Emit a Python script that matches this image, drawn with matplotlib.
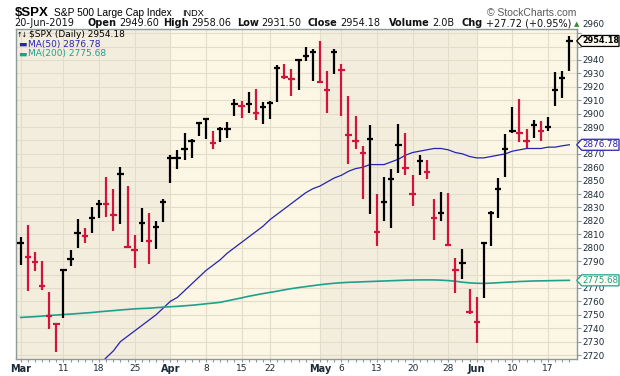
import matplotlib
matplotlib.use("Agg")
import matplotlib.pyplot as plt
import numpy as np
import pandas as pd
from matplotlib import font_manager
from matplotlib.patches import Polygon
from matplotlib.transforms import IdentityTransform, ScaledTranslation

# ---- data (S&P 500 daily, 1-Mar-2019 .. 20-Jun-2019) ----
dates = pd.bdate_range("2019-03-01", "2019-06-20").drop(pd.to_datetime(["2019-04-19", "2019-05-27"]))
prev_close = 2784.49

highs = [2808.02, 2816.88, 2796.44, 2790.27, 2767.25, 2744.13, 2783.81, 2798.32, 2821.24, 2815.00, 2830.73,
         2835.41, 2852.42, 2843.54, 2860.31, 2846.16, 2809.79, 2829.87, 2825.56, 2819.71, 2836.03,
         2869.40, 2872.90, 2885.25, 2881.28, 2893.24, 2895.95, 2886.88, 2889.71, 2893.42, 2910.54, 2909.60,
         2916.06, 2918.00, 2908.40, 2909.51, 2936.31, 2936.83, 2933.10, 2939.88, 2949.52, 2948.22,
         2954.13, 2931.68, 2947.85, 2937.32, 2913.03, 2897.96, 2875.97, 2891.31, 2840.19, 2852.54, 2858.68,
         2892.15, 2885.48, 2853.86, 2868.88, 2865.47, 2836.70, 2841.36, 2840.51, 2792.03, 2799.00, 2768.98,
         2763.07, 2804.49, 2827.28, 2852.10, 2884.97, 2904.77, 2910.61, 2888.57, 2895.24, 2894.45, 2897.27,
         2930.79, 2931.74, 2958.06]
lows = [2787.38, 2767.66, 2782.97, 2768.69, 2739.09, 2722.27, 2747.61, 2786.73, 2799.78, 2803.46, 2810.79,
        2821.99, 2823.27, 2812.43, 2817.38, 2800.47, 2785.02, 2803.99, 2787.72, 2798.77, 2819.23,
        2848.63, 2858.75, 2865.17, 2867.14, 2882.99, 2880.78, 2873.33, 2879.13, 2881.99, 2898.37, 2896.48,
        2900.71, 2895.45, 2891.90, 2896.35, 2908.53, 2926.05, 2912.84, 2917.56, 2939.35, 2924.11,
        2923.36, 2900.50, 2929.21, 2898.21, 2862.60, 2873.28, 2836.40, 2825.39, 2801.43, 2820.12, 2815.08,
        2855.80, 2854.23, 2831.29, 2854.02, 2851.11, 2805.49, 2820.19, 2801.58, 2766.06, 2776.74, 2750.52,
        2728.81, 2762.64, 2800.92, 2822.45, 2852.87, 2885.51, 2878.53, 2874.68, 2881.99, 2879.62, 2887.30,
        2905.44, 2911.43, 2931.50]
closes = [2803.69, 2792.81, 2789.65, 2771.45, 2748.93, 2743.07, 2783.30, 2791.52, 2810.92, 2808.48, 2822.48,
          2832.94, 2832.57, 2824.23, 2854.88, 2800.71, 2798.36, 2818.46, 2805.37, 2815.44, 2834.40,
          2867.19, 2867.24, 2873.40, 2879.39, 2892.74, 2895.77, 2878.20, 2888.21, 2888.32, 2907.41, 2905.58,
          2907.06, 2900.45, 2905.03, 2907.97, 2933.68, 2927.25, 2926.17, 2939.88, 2943.03, 2945.83,
          2923.73, 2917.52, 2945.64, 2932.47, 2884.05, 2879.42, 2870.72, 2881.40, 2811.87, 2834.41, 2850.96,
          2876.32, 2859.53, 2840.23, 2864.36, 2856.27, 2822.24, 2826.06, 2802.39, 2783.02, 2788.86, 2752.06,
          2744.45, 2803.27, 2826.15, 2843.49, 2873.34, 2886.73, 2885.72, 2879.84, 2891.64, 2886.98, 2889.67,
          2917.75, 2926.46, 2954.18]

# MA(50) starts inside the window (values before day 11 are below the chart)
ma50_start = 11
ma50 = [2712, 2718, 2723, 2730, 2734, 2738, 2742, 2746, 2750, 2755, 2760, 2763, 2768, 2773, 2778, 2783,
        2787, 2791, 2796, 2800, 2804, 2808, 2812, 2816, 2821, 2825, 2829, 2833, 2837, 2841, 2844, 2846,
        2849, 2852, 2854, 2857, 2859, 2860, 2862, 2862, 2862, 2864, 2866, 2869, 2871, 2872, 2873, 2874,
        2874, 2873, 2871, 2870, 2868, 2867, 2867, 2868, 2869, 2870, 2872, 2873, 2874, 2874, 2874, 2875,
        2875, 2876, 2876.78]
ma200 = [2748.0, 2748.3, 2748.6, 2749.0, 2749.5, 2749.8, 2750.2, 2750.5, 2750.9, 2751.3, 2751.7, 2752.2,
         2752.7, 2753.1, 2753.6, 2754.0, 2754.4, 2754.7, 2754.9, 2755.3, 2755.7, 2756.0, 2756.3, 2756.7,
         2757.1, 2757.6, 2758.2, 2758.7, 2759.3, 2760.4, 2761.5, 2762.6, 2763.8, 2764.8, 2765.8, 2766.7,
         2767.6, 2768.6, 2769.5, 2770.3, 2771.0, 2771.7, 2772.4, 2773.0, 2773.5, 2773.9, 2774.2, 2774.4,
         2774.6, 2774.8, 2775.0, 2775.2, 2775.4, 2775.6, 2775.8, 2775.9, 2776.0, 2776.0, 2776.0, 2775.8,
         2775.5, 2775.0, 2774.3, 2773.8, 2773.5, 2773.4, 2773.6, 2773.9, 2774.2, 2774.5, 2774.8, 2775.0,
         2775.2, 2775.3, 2775.4, 2775.5, 2775.6, 2775.68]

tick_days = ["2019-03-01", "2019-03-11", "2019-03-18", "2019-03-25", "2019-04-01", "2019-04-08",
             "2019-04-15", "2019-04-22", "2019-05-01", "2019-05-06", "2019-05-13", "2019-05-20",
             "2019-05-28", "2019-06-03", "2019-06-10", "2019-06-17"]
y_ticks = list(range(2720, 2961, 10))
hidden_y = [2950, 2880, 2780]   # covered by the value tags

RED = "#D2143A"
BLUE = "#2424AE"
TEAL = "#1FA08C"
LIGHT = "#FCF6E4"
DARK = "#F3EDDE"
GRIDC = "#E3DCCB"
AXC = "#8E9A9A"
TXT = "#1C2A36"

names = {f.name for f in font_manager.fontManager.ttflist}
narrow = "Liberation Sans Narrow" in names

W, H = 620, 376
fig = plt.figure(figsize=(W / 100, H / 100), dpi=100)
ax = fig.add_axes([15.7 / W, 1 - 359.3 / H, 561 / W, 330.3 / H])

x = np.arange(len(dates))
ax.set_xlim(-0.70, 78.03)
ax.set_ylim(2716.8, 2963.1)

# month shading
ax.set_facecolor(LIGHT)
month_starts = [i for i in range(len(dates)) if i == 0 or dates[i].month != dates[i - 1].month]
edges = month_starts[1:] + [ax.get_xlim()[1]]
lo = ax.get_xlim()[0]
for k, hi in enumerate(edges):
    if k % 2 == 0:
        ax.axvspan(lo, hi, color=DARK, lw=0, zorder=0)
    lo = hi

# bars (high-low with close cross)
prev = [prev_close] + closes[:-1]
cols = ["black" if c >= p else RED for c, p in zip(closes, prev)]
ax.vlines(x, lows, highs, colors=cols, lw=1.6, zorder=4)
ax.hlines(closes, x - 0.45, x + 0.45, colors=cols, lw=1.6, zorder=4)

ax.plot(x[ma50_start:], ma50, color=BLUE, lw=0.9, zorder=3)
ax.plot(x, ma200, color=TEAL, lw=1.2, zorder=3)

# axes / grid
tick_idx = [int(np.where(dates == pd.Timestamp(d))[0][0]) for d in tick_days]
tick_lbl = [dates[i].strftime("%b") if i in month_starts else str(dates[i].day) for i in tick_idx]
ax.set_xticks(tick_idx, tick_lbl)
ax.set_xticks(x, minor=True)
for lab, i in zip(ax.get_xticklabels(), tick_idx):
    if i in month_starts:
        lab.set_fontweight("bold")
        lab.set_fontsize(7)
    else:
        lab.set_fontsize(6.5)
    lab.set_color(TXT)
ax.tick_params(axis="x", which="both", length=2, width=0.8, color=AXC, pad=1.5)

ax.yaxis.tick_right()
ax.set_yticks(y_ticks, ["" if v in hidden_y else str(v) for v in y_ticks])
ax.tick_params(axis="y", length=3, width=0.8, color=AXC, pad=1, labelsize=6.3, labelcolor=TXT)
# top label sits above the last-price tag
top_lab = ax.get_yticklabels()[-1]
top_lab.set_transform(top_lab.get_transform() + ScaledTranslation(0, 7 / 72, fig.dpi_scale_trans))
ax.grid(True, which="major", color=GRIDC, lw=0.8, zorder=1)
ax.set_axisbelow(True)
for s in ax.spines.values():
    s.set_color(AXC)
    s.set_linewidth(1)

# legend text inside plot
def px(xp, yp):
    return xp / W, 1 - yp / H

fig.text(*px(16.5, 34.5), "\u2191\u2193", fontsize=4.8, va="center", color="black")
fig.text(*px(29, 34.5), "$SPX (Daily) 2954.18", fontsize=6.5, va="center", color="black")
fig.text(*px(18, 44.3), "\u25ac", fontsize=6.5, va="center", color=BLUE)
fig.text(*px(28, 44.3), "MA(50) 2876.78", fontsize=6.5, va="center", color=BLUE)
fig.text(*px(18, 53.8), "\u25ac", fontsize=6.5, va="center", color=TEAL)
fig.text(*px(28, 53.8), "MA(200) 2775.68", fontsize=6.5, va="center", color=TEAL)

# header
hf = "Liberation Sans Narrow" if narrow else "Liberation Sans"
fig.text(*px(15, 15.5), "$SPX", family=hf, fontweight="bold", fontsize=11 if narrow else 9.5, va="baseline")
fig.text(*px(54, 15.5), "S&P 500 Large Cap Index", family=hf, fontsize=8.6 if narrow else 7.3, va="baseline")
fig.text(*px(182, 15.5), "INDX", family="Liberation Sans", fontsize=6.6, va="baseline")
fig.text(*px(576, 15.5), "\u00a9 StockCharts.com", family="Liberation Sans", fontsize=7.5,
         va="baseline", ha="right", color="#5A5A5A")

fig.canvas.draw()
rend = fig.canvas.get_renderer()
row2 = [(14, None, "20-Jun-2019"), (88, "Open", "2949.60"), (163, "High", "2958.06"),
        (237, "Low", "2931.50"), (308, "Close", "2954.18"), (389, "Volume", "2.0B"),
        (462, "Chg", "+27.72 (+0.95%)")]
for xs, lab, val in row2:
    xx = xs
    if lab:
        t = fig.text(*px(xx, 26), lab, fontsize=7.0, fontweight="bold", va="baseline", color="#111111")
        xx = t.get_window_extent(rend).x1 + 2.5
    t = fig.text(*px(xx, 26), val, fontsize=7.0, va="baseline", color="#111111")
end_x = t.get_window_extent(rend).x1
fig.text(*px(end_x + 3, 26), "\u25b2", fontsize=5.0, va="baseline", color="#3A8A3A")

# value tags on the right axis
x_r = ax.transAxes.transform((1, 0))[0]
for val, ec, bold in [(2954.18, "black", True), (2876.78, BLUE, False), (2775.68, TEAL, False)]:
    yp = ax.transData.transform((0, val))[1]
    hh = 5.5
    poly = Polygon([(x_r, yp), (x_r + 5, yp - hh), (W - 1, yp - hh), (W - 1, yp + hh), (x_r + 5, yp + hh)],
                   closed=True, transform=IdentityTransform(), facecolor="#FFFBF0", edgecolor=ec,
                   lw=0.9, zorder=10)
    fig.add_artist(poly)
    fig.text((x_r + 5 + W - 1) / 2 + 0.5, yp, f"{val:.2f}", transform=IdentityTransform(), ha="center",
             va="center", fontsize=5.9 if bold else 6.3, fontweight="bold" if bold else "normal",
             color=ec, zorder=11)

fig.savefig("out.png", dpi=100, facecolor="white")
